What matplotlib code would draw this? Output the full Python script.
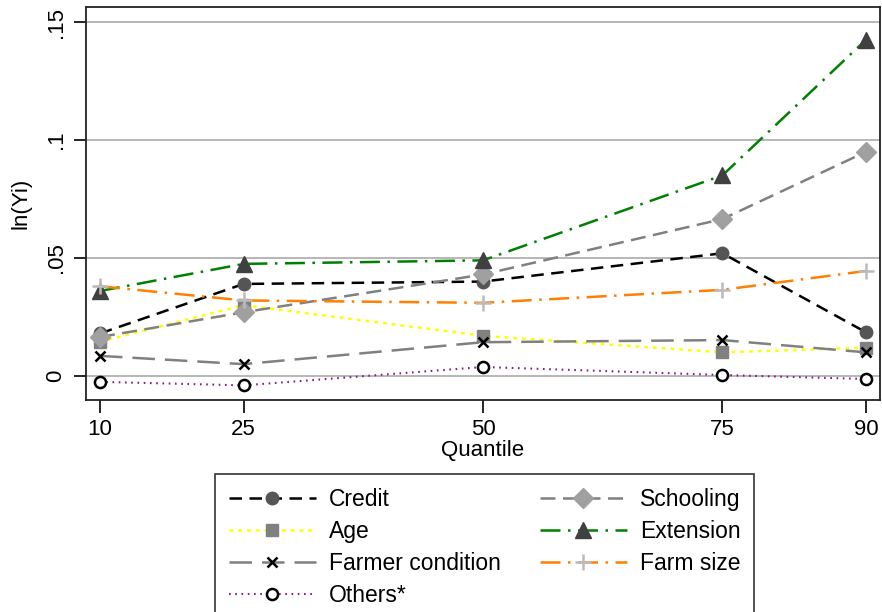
import numpy as np
import matplotlib
matplotlib.use('Agg')
import matplotlib.pyplot as plt

plt.rcParams['font.family'] = ['Liberation Sans', 'DejaVu Sans']

# data
quantiles = [10, 25, 50, 75, 90]
credit = [0.018, 0.039, 0.040, 0.052, 0.0185]
age = [0.0145, 0.030, 0.017, 0.010, 0.012]
farmer_cond = [0.0085, 0.005, 0.0143, 0.0152, 0.010]
others = [-0.0025, -0.004, 0.0038, 0.0004, -0.0013]
schooling = [0.0165, 0.027, 0.043, 0.0665, 0.095]
extension = [0.036, 0.0475, 0.049, 0.085, 0.1425]
farm_size = [0.038, 0.032, 0.031, 0.0365, 0.0445]

yticks = [0, 0.05, 0.1, 0.15]
ytick_labels = ['0', '.05', '.1', '.15']

fig = plt.figure(figsize=(8.82, 6.12), dpi=100)
ax = fig.add_axes([0.0975, 0.3464, 0.9002, 0.6422])

for y in yticks:
    ax.axhline(y, color='#aaaaaa', lw=1.2, zorder=0)

h_credit, = ax.plot(quantiles, credit, color='black', ls=(0, (5, 3)), lw=1.8,
                    marker='o', ms=9, mfc='#555555', mec='#555555', label='Credit')
h_age, = ax.plot(quantiles, age, color='#ffff00', ls=(0, (1.5, 2)), lw=1.8,
                 marker='s', ms=9, mfc='#808080', mec='#808080', label='Age')
h_fc, = ax.plot(quantiles, farmer_cond, color='#808080', ls=(0, (9, 4)), lw=1.8,
                marker='x', ms=7, mec='black', mew=1.8, label='Farmer condition')
h_oth, = ax.plot(quantiles, others, color='#8b1a8b', ls=(0, (0.8, 2.2)), lw=1.5,
                 marker='o', ms=8, mfc='white', mec='black', mew=1.8, label='Others*')
h_sch, = ax.plot(quantiles, schooling, color='#808080', ls=(0, (6, 3)), lw=1.8,
                 marker='D', ms=10, mfc='#a0a0a0', mec='#a0a0a0', label='Schooling')
h_ext, = ax.plot(quantiles, extension, color='#008000', ls=(0, (8, 3, 1, 3)), lw=1.8,
                 marker='^', ms=12, mfc='#404040', mec='#404040', label='Extension')
h_fs, = ax.plot(quantiles, farm_size, color='#ff7f00', ls=(0, (8, 3, 1, 3)), lw=1.8,
                marker='+', ms=11, mec='#bbbbbb', mew=1.8, label='Farm size')

ax.set_xlim(8.54, 91.46)
ax.set_ylim(-0.0102, 0.1564)
ax.set_xticks(quantiles)
ax.set_xticklabels([str(q) for q in quantiles], fontsize=16)
ax.set_yticks(yticks)
ax.set_yticklabels(ytick_labels, fontsize=16, rotation=90, va='center')
ax.tick_params(direction='out', length=9, width=1.2, pad=5)
for s in ax.spines.values():
    s.set_linewidth(1.3)
    s.set_color('#222222')

ax.set_xlabel('Quantile', fontsize=16, labelpad=0)
ax.set_ylabel('ln(Yi)', fontsize=16, labelpad=10)

handles = [h_credit, h_age, h_fc, h_oth, h_sch, h_ext, h_fs]
leg = fig.legend(handles=handles, ncol=2, loc='upper left',
                 bbox_to_anchor=(215 / 882, 1 - 474 / 612), fontsize=16.5,
                 handlelength=3.8, frameon=True, fancybox=False,
                 edgecolor='black', borderpad=0.6, labelspacing=0.4,
                 columnspacing=1.7, handletextpad=0.57, borderaxespad=0)
leg.get_frame().set_linewidth(1.2)

fig.savefig('out.png', dpi=100)
